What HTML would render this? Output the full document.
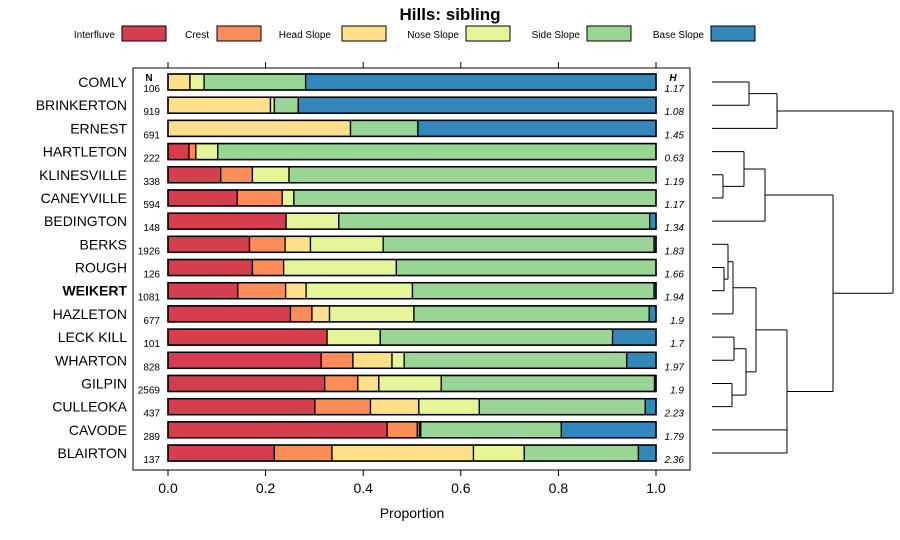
<!DOCTYPE html>
<html><head><meta charset="utf-8"><style>
body{margin:0;background:#fff;font-family:"Liberation Sans",sans-serif}
svg{display:block}
</style></head><body>
<svg id="c" width="900" height="540" xmlns="http://www.w3.org/2000/svg"></svg>
<script>
const names=["COMLY","BRINKERTON","ERNEST","HARTLETON","KLINESVILLE","CANEYVILLE","BEDINGTON","BERKS","ROUGH","WEIKERT","HAZLETON","LECK KILL","WHARTON","GILPIN","CULLEOKA","CAVODE","BLAIRTON"];
const counts=[106,919,691,222,338,594,148,1926,126,1081,677,101,828,2569,437,289,137];
const entropy=["1.17","1.08","1.45","0.63","1.19","1.17","1.34","1.83","1.66","1.94","1.9","1.7","1.97","1.9","2.23","1.79","2.36"];
const classes=["Interfluve","Crest","Head Slope","Nose Slope","Side Slope","Base Slope"];
const interfluve=[0,0,0,0.043,0.108,0.142,0.242,0.167,0.173,0.143,0.251,0.326,0.314,0.321,0.301,0.449,0.218];
const crest=[0,0,0,0.014,0.065,0.092,0,0.073,0.064,0.098,0.044,0,0.065,0.068,0.114,0.062,0.118];
const headSlope=[0.045,0.210,0.374,0,0,0,0,0.052,0,0.042,0.036,0,0.080,0.043,0.099,0.004,0.290];
const noseSlope=[0.029,0.008,0,0.045,0.075,0.024,0.108,0.149,0.231,0.218,0.173,0.109,0.025,0.128,0.124,0.003,0.104];
const sideSlope=[0.208,0.049,0.138,0.898,0.752,0.742,0.637,0.555,0.532,0.495,0.482,0.476,0.456,0.437,0.340,0.288,0.234];
const baseSlope=[0.718,0.733,0.488,0,0,0,0.013,0.004,0,0.004,0.014,0.089,0.060,0.003,0.022,0.194,0.036];
const xTicks=[0,0.2,0.4,0.6,0.8,1.0];
const colors=["#D53E4F","#FC8D59","#FEE08B","#E6F598","#99D594","#3288BD"];
const series=[interfluve,crest,headSlope,noseSlope,sideSlope,baseSlope];
const NS="http://www.w3.org/2000/svg",svg=document.getElementById('c');
function el(t,a,p){const e=document.createElementNS(NS,t);for(const k in a)e.setAttribute(k,a[k]);(p||svg).appendChild(e);return e;}
const X0=168,X1=656,xs=v=>X0+(X1-X0)*v;
const Y0=82,DY=23.19,ys=i=>Y0+DY*i;
// title
let t=el('text',{x:450,y:20,'text-anchor':'middle','font-size':17,'font-weight':'bold'});t.textContent="Hills: sibling";

// legend
const legTextEnd=[115,209,331,459,580,704],legBox=[122,217,342,466,587,711];
classes.forEach((c,k)=>{
 const g=el('g',{});
 
 
 const tx=el('text',{x:legTextEnd[k],y:38,'text-anchor':'end','font-size':10},g);tx.textContent=c;
 el('rect',{x:legBox[k],y:26,width:44,height:15,fill:colors[k],stroke:'#000','stroke-width':1},g);
});
// panel
const panel=el('rect',{x:133,y:68,width:557,height:402,fill:'none',stroke:'#000','stroke-width':1});

// top ticks & bottom ticks
xTicks.forEach(v=>{
 el('line',{x1:xs(v),x2:xs(v),y1:62,y2:68,stroke:'#000'});
 el('line',{x1:xs(v),x2:xs(v),y1:470,y2:476,stroke:'#000'});
 const l=el('text',{x:xs(v),y:493,'text-anchor':'middle','font-size':14});l.textContent=v.toFixed(1);
 
});
let xl=el('text',{x:412,y:518,'text-anchor':'middle','font-size':14});xl.textContent="Proportion";

let nh=el('text',{x:149,y:81,'text-anchor':'middle','font-size':10,'font-weight':'bold'});nh.textContent="N";
let hh=el('text',{x:673,y:81,'text-anchor':'middle','font-size':10,'font-weight':'bold','font-style':'italic'});hh.textContent="H";
names.forEach((n,i)=>{
 const y=ys(i);
 const lab=el('text',{x:127,y:y+5,'text-anchor':'end','font-size':14,'font-weight':n==="WEIKERT"?'bold':'normal'});lab.textContent=n;
 
 const nt=el('text',{x:160,y:y+10,'text-anchor':'end','font-size':10});nt.textContent=counts[i];
 const ht=el('text',{x:684,y:y+10,'text-anchor':'end','font-size':10,'font-style':'italic'});ht.textContent=entropy[i];
 let cum=0;
 series.forEach((s,k)=>{
  const v=s[i];if(v<=0)return;
  const r=el('rect',{x:xs(cum),y:y-8,width:xs(cum+v)-xs(cum),height:16,fill:colors[k],stroke:'#000','stroke-width':1.3});
  
  cum+=v;
 });
 const o=el('rect',{x:X0,y:y-8,width:X1-X0,height:16,fill:'none',stroke:'#000','stroke-width':1.5});
});
// dendrogram
const dg=el('g',{stroke:'#000','stroke-width':1,fill:'none'});

const L=712;
function seg(x1,y1,x2,y2){el('line',{x1,y1,x2,y2},dg);}
function node(x,kids){ // kids: [x,y]
 const yv=kids.map(k=>k[1]);seg(x,Math.min(...yv),x,Math.max(...yv));
 kids.forEach(k=>seg(k[0],k[1],x,k[1]));
 return [x,(Math.min(...yv)+Math.max(...yv))/2];
}
const lf=i=>[L,ys(i)];
let a=node(749,[lf(0),lf(1)]);a=node(777,[a,lf(2)]);
let b=node(723,[lf(4),lf(5)]);b=node(744,[lf(3),b]);b=node(765,[b,lf(6)]);
let c=node(724,[lf(8),lf(9)]);c=node(728,[lf(7),c]);c=node(733,[c,lf(10)]);
let d1=node(734,[lf(11),lf(12)]),d2=node(732,[lf(13),lf(14)]);let d=node(746,[d1,d2]);
let e=node(756,[c,d]);
el('line',{x1:787,y1:e[1],x2:787,y2:ys(16)},dg);
seg(e[0],e[1],787,e[1]);seg(L,ys(15),787,ys(15));seg(L,ys(16),787,ys(16));
const fNode=[787,(e[1]+ys(16))/2];
let g2=node(833,[b,fNode]);
node(893,[a,g2]);
</script>
</body></html>
